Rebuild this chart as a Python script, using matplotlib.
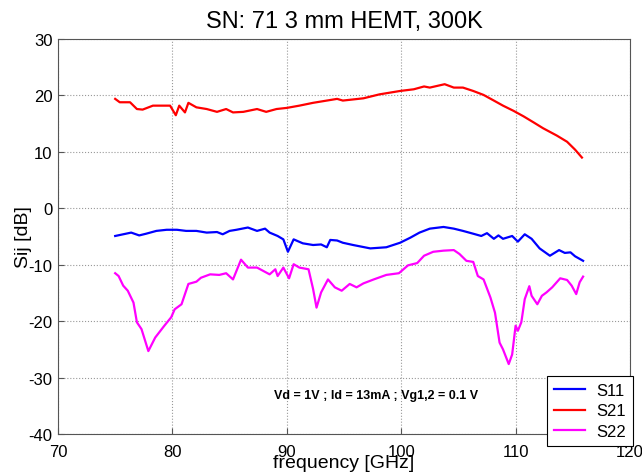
import matplotlib
matplotlib.use('Agg')
import matplotlib.pyplot as plt

plt.rcParams['font.family'] = ['Liberation Sans', 'DejaVu Sans']
plt.rcParams['axes.unicode_minus'] = False

# S11 (blue)
f11 = [75.0, 75.7, 76.4, 77.1, 77.7, 78.6, 79.5, 80.4, 81.2, 82.1, 83.0, 83.9, 84.4, 85.0,
       85.6, 86.6, 87.4, 88.1, 88.5, 89.2, 89.7, 90.1, 90.6, 91.4, 92.3, 93.0, 93.5, 93.8,
       94.4, 94.9, 95.8, 97.3, 98.7, 99.9, 100.8, 101.6, 102.5, 103.7, 104.6, 105.4, 106.3,
       107.0, 107.5, 108.1, 108.5, 108.9, 109.7, 110.2, 110.8, 111.4, 112.1, 113.0, 113.8,
       114.3, 114.8, 115.2, 115.9]
s11 = [-4.9, -4.6, -4.3, -4.8, -4.5, -4.0, -3.8, -3.8, -4.0, -4.0, -4.3, -4.2, -4.6, -4.0,
       -3.8, -3.4, -4.0, -3.6, -4.3, -4.9, -5.5, -7.7, -5.5, -6.2, -6.5, -6.4, -6.9, -5.6,
       -5.7, -6.1, -6.5, -7.1, -6.9, -6.1, -5.2, -4.3, -3.6, -3.3, -3.6, -4.0, -4.5,
       -4.9, -4.4, -5.4, -4.8, -5.4, -4.9, -5.9, -4.6, -5.4, -7.1, -8.4, -7.4,
       -7.9, -7.8, -8.5, -9.3]

# S21 (red)
f21 = [75.0, 75.4, 76.3, 76.9, 77.4, 78.3, 79.0, 79.8, 80.3, 80.6, 81.1, 81.4, 82.1, 83.0,
       83.9, 84.7, 85.3, 86.2, 87.4, 88.2, 89.1, 90.0, 91.1, 92.3, 93.5, 94.4, 94.9, 96.7,
       98.1, 99.9, 101.1, 102.0, 102.5, 103.8, 104.6, 105.4, 106.3, 107.2, 108.1, 108.9,
       109.8, 110.7, 111.6, 112.4, 113.6, 114.5, 115.2, 115.8]
s21 = [19.4, 18.8, 18.8, 17.6, 17.5, 18.2, 18.2, 18.2, 16.5, 18.2, 17.0, 18.7, 17.9, 17.6,
       17.1, 17.6, 17.0, 17.1, 17.6, 17.1, 17.6, 17.8, 18.2, 18.7, 19.1, 19.4, 19.1, 19.5,
       20.2, 20.8, 21.1, 21.6, 21.4, 22.0, 21.4, 21.4, 20.8, 20.1, 19.1, 18.2,
       17.3, 16.3, 15.2, 14.2, 12.9, 11.8, 10.4, 9.0]

# S22 (magenta)
f22 = [75.0, 75.3, 75.7, 76.1, 76.6, 76.9, 77.3, 77.9, 78.5, 79.3, 79.9, 80.2, 80.8, 81.4,
       82.1, 82.5, 83.3, 84.1, 84.7, 85.3, 86.0, 86.6, 87.4, 88.5, 89.0, 89.2, 89.7, 90.2,
       90.6, 91.1, 91.9, 92.3, 92.6, 93.0, 93.6, 94.2, 94.8, 95.5, 96.1, 96.7, 97.6, 98.7,
       99.8, 100.6, 101.4, 102.0, 102.8, 103.7, 104.6, 105.1, 105.7, 106.3, 106.7, 107.2,
       107.8, 108.2, 108.6, 108.9, 109.4, 109.7, 110.0, 110.2, 110.5, 110.8, 111.2, 111.4,
       111.9, 112.3, 112.7, 113.2, 113.9, 114.5, 114.9, 115.3, 115.6, 115.9]
s22 = [-11.5, -12.0, -13.7, -14.6, -16.7, -20.2, -21.4, -25.3, -22.9, -20.8, -19.3, -17.9,
       -17.0, -13.4, -13.0, -12.3, -11.7, -11.8, -11.5, -12.6, -9.1, -10.5, -10.5, -11.7,
       -10.8, -12.0, -10.5, -12.4, -9.9, -10.5, -10.8, -14.3, -17.6, -14.9, -12.6, -14.0,
       -14.6, -13.4, -14.0, -13.3, -12.6, -11.8, -11.5, -10.1, -9.7, -8.4, -7.7, -7.5,
       -7.4, -8.1, -9.3, -9.5, -12.0, -12.6, -15.8, -18.5, -23.8, -25.0, -27.6, -25.9,
       -20.8, -21.7, -20.2, -16.1, -13.8, -15.5, -17.0, -15.5, -14.9, -14.0, -12.4, -12.7,
       -13.7, -15.2, -13.1, -12.1]

xticks = [70, 80, 90, 100, 110, 120]
yticks = [-40, -30, -20, -10, 0, 10, 20, 30]

fig = plt.figure(figsize=(6.42, 4.77), dpi=100)
ax = fig.add_axes([0.0903, 0.088, 0.891, 0.828])

ax.plot(f11, s11, color='#0000ff', lw=1.6, label='S11')
ax.plot(f21, s21, color='#ff0000', lw=1.6, label='S21')
ax.plot(f22, s22, color='#ff00ff', lw=1.6, label='S22')

ax.set_xlim(70, 120)
ax.set_ylim(-40, 30)
ax.set_xticks(xticks)
ax.set_yticks(yticks)
ax.tick_params(direction='in', labelsize=12, color='#555555', length=4)
ax.tick_params(axis='x', pad=7)
ax.tick_params(axis='y', pad=4)
ax.grid(True, linestyle=':', color='#999999', linewidth=0.8)
for sp in ax.spines.values():
    sp.set_color('#555555')

ax.set_title('SN: 71 3 mm HEMT, 300K', fontsize=17, pad=9)
ax.set_xlabel('frequency [GHz]', fontsize=14)
ax.xaxis.set_label_coords(0.5, -0.05)
ax.set_ylabel('Sij [dB]', fontsize=14)
ax.yaxis.set_label_coords(-0.046, 0.5)

ax.text(88.9, -33.1, 'Vd = 1V ; Id = 13mA ; Vg1,2 = 0.1 V', fontsize=9, fontweight='bold',
        ha='left', va='center')

leg = fig.legend(loc='lower left', bbox_to_anchor=(0.852, 0.063), fontsize=12,
                 fancybox=False, framealpha=1, edgecolor='black', borderaxespad=0,
                 handlelength=1.9, labelspacing=0.35, borderpad=0.4, handletextpad=0.65)
leg.get_frame().set_linewidth(0.8)

fig.savefig('out.png', dpi=100)
